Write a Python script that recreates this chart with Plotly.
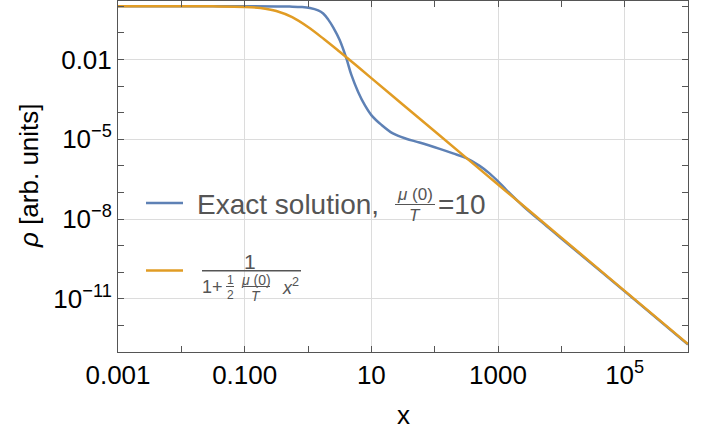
import numpy as np
import plotly.graph_objects as go

# ── data (log10 values) ─────────────────────────────────────────────────────
exact_log_x = [-3.0, -2.0, -1.0, -0.5, -0.29, -0.1, 0.03, 0.16, 0.24, 0.32, 0.40,
               0.50, 0.606, 0.685, 0.79, 0.895, 1.0, 1.16, 1.34, 1.55, 1.76,
               2.08, 2.29, 2.50, 2.71, 2.87, 3.0, 3.13, 3.4, 3.77, 4.0, 5.0, 6.0]
exact_log_rho = [0.0, 0.0, 0.0, -0.003, -0.01, -0.025, -0.06, -0.15, -0.27, -0.5, -0.80,
                 -1.27, -1.96, -2.58, -3.21, -3.71, -4.09, -4.46, -4.78, -4.98, -5.12,
                 -5.36, -5.53, -5.71, -6.00, -6.29, -6.58, -6.90, -7.52, -8.27, -8.73,
                 -10.72, -12.72]

approx_log_x = [-3.0, -2.0, -1.5, -1.0, -0.75, -0.5, -0.25, 0.0, 0.25, 0.5,
                0.75, 1.0, 1.5, 2.0, 3.0, 4.0, 5.0, 6.0]
approx_log_rho = [0.0, 0.0, -0.002, -0.021, -0.064, -0.176, -0.41, -0.78, -1.23, -1.71,
                  -2.20, -2.70, -3.70, -4.70, -6.70, -8.70, -10.70, -12.70]

x_tickvals = [1e-3, 1e-1, 1e1, 1e3, 1e5]
x_ticktext = ["0.001", "0.100", "10", "1000", "10<sup>5</sup>"]
x_minor = [1e-2, 1e0, 1e2, 1e4]

y_tickvals = [1e-2, 1e-5, 1e-8, 1e-11]
y_ticktext = ["0.01", "10<sup>−5</sup>", "10<sup>−8</sup>", "10<sup>−11</sup>"]
y_minor = [1e0, 1e-1, 1e-3, 1e-4, 1e-6, 1e-7, 1e-9, 1e-10, 1e-12]

BLUE = "#5e81b5"
ORANGE = "#e19c24"
GREY = "#555555"
FONT = "Liberation Sans, Arial, sans-serif"

W, H = 721, 432
L, R, T, B = 118, 33, 1, 80


def P(xp, yp):
    """pixel position -> paper coordinates"""
    return (xp - L) / (W - L - R), (H - B - yp) / (H - B - T)


fig = go.Figure()
fig.add_trace(go.Scatter(
    x=10 ** np.array(exact_log_x), y=10 ** np.array(exact_log_rho),
    mode="lines", line=dict(color=BLUE, width=2.5, shape="spline", smoothing=1.0),
    showlegend=False,
))
fig.add_trace(go.Scatter(
    x=10 ** np.array(approx_log_x), y=10 ** np.array(approx_log_rho),
    mode="lines", line=dict(color=ORANGE, width=2.5, shape="spline", smoothing=1.0),
    showlegend=False,
))

axis_common = dict(
    type="log", showline=True, linecolor=GREY, linewidth=1, mirror="ticks",
    ticks="inside", ticklen=6, tickcolor=GREY, tickwidth=1,
    showgrid=True, gridcolor="#dcdcdc", gridwidth=1, zeroline=False,
    tickfont=dict(family=FONT, size=26, color="#000000"),
)

fig.update_layout(
    width=W, height=H,
    margin=dict(l=L, r=R, t=T, b=B),
    paper_bgcolor="white", plot_bgcolor="white",
    font=dict(family=FONT, size=26, color="#000000"),
    xaxis=dict(axis_common, range=[-3, 6], tickmode="array",
               tickvals=x_tickvals, ticktext=x_ticktext,
               minor=dict(tickmode="array", tickvals=x_minor, ticks="inside",
                          ticklen=6, tickcolor=GREY, showgrid=False)),
    yaxis=dict(axis_common, range=[-13.0, 0.2], tickmode="array",
               tickvals=y_tickvals, ticktext=y_ticktext,
               minor=dict(tickmode="array", tickvals=y_minor, ticks="inside",
                          ticklen=6, tickcolor=GREY, showgrid=False)),
)


def text(xp, yp, s, size, anchor="center", color=GREY, angle=0):
    px, py = P(xp, yp)
    fig.add_annotation(x=px, y=py, xref="paper", yref="paper", text=s,
                       showarrow=False, xanchor=anchor, yanchor="middle",
                       textangle=angle, borderpad=0,
                       font=dict(family=FONT, size=size, color=color))


def hline(x0, x1, yp, color=GREY, width=1):
    p0 = P(x0, yp)
    p1 = P(x1, yp)
    fig.add_shape(type="line", xref="paper", yref="paper",
                  x0=p0[0], x1=p1[0], y0=p0[1], y1=p1[1],
                  line=dict(color=color, width=width))


# axis titles
text(403, 415, "x", 26, color="#000000")
text(29, 175, "<i>ρ</i> [arb. units]", 26, color="#000000", angle=-90)

# legend: exact solution
hline(146, 183, 203, BLUE, 2.5)
text(196, 204, "Exact solution,", 28, anchor="left")
text(415, 194, "<i>μ</i> (0)", 17)
hline(395, 435, 204.5, GREY, 1)
text(415, 215, "<i>T</i>", 17)
text(437, 204, "=10", 28, anchor="left")

# legend: approximation
hline(146, 183, 270.5, ORANGE, 2.5)
text(250, 261, "1", 21)
hline(202, 301, 270.7, GREY, 1.5)
text(201, 287, "1+", 18, anchor="left")
text(230, 280, "1", 12)
hline(226, 234, 286.5, GREY, 1)
text(230, 295, "2", 12)
text(256, 280, "<i>μ</i> (0)", 14)
hline(243, 270, 286.5, GREY, 1)
text(256, 296, "<i>T</i>", 14)
text(290, 286, "<i>x</i><sup>2</sup>", 18)

# page has a default 8px body margin; drop it so the figure fills the window
fig.write_html("out.html",
               config={"displayModeBar": False},
               post_script="document.body.style.margin='0px';"
                           "document.body.style.overflow='hidden';")
